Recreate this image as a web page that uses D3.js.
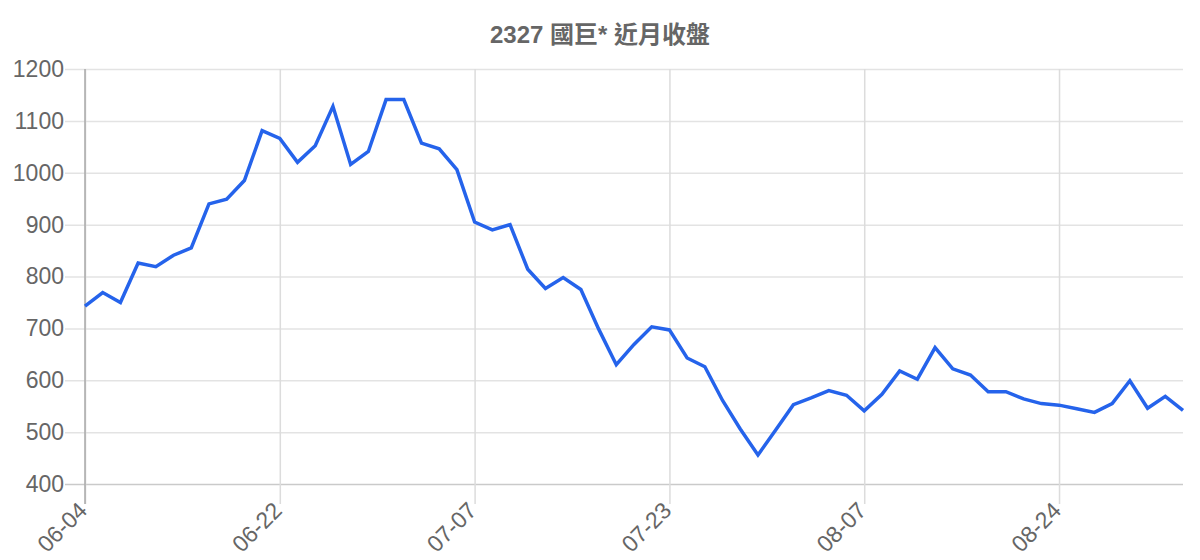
<!DOCTYPE html>
<html>
<head>
<meta charset="utf-8">
<script src="https://cdn.jsdelivr.net/npm/d3@7"></script>
<style>
    body { margin: 0; background: #fff; }
    svg text { font-family: "Liberation Sans", Arial, "Noto Sans CJK TC", sans-serif; fill: #666; }
</style>
</head>
<body>
<div id="chart"></div>
<script>
"use strict"

// chart data
var title = "2327 國巨* 近月收盤"

var dates = [
    "06-04", "06-05", "06-08", "06-09", "06-10", "06-11", "06-12", "06-15", "06-16", "06-17", "06-19",
    "06-22", "06-23", "06-24", "06-25", "06-26", "06-29", "06-30", "07-01", "07-02", "07-03", "07-06",
    "07-07", "07-08", "07-09", "07-13", "07-14", "07-15", "07-16", "07-17", "07-20", "07-21", "07-22",
    "07-23", "07-24", "07-27", "07-28", "07-29", "07-30", "07-31", "08-03", "08-04", "08-05", "08-06",
    "08-07", "08-10", "08-11", "08-12", "08-13", "08-14", "08-17", "08-18", "08-19", "08-20", "08-21",
    "08-24", "08-25", "08-26", "08-27", "08-28", "08-31", "09-01", "09-02"
]

var closes = [
    743, 769, 750, 826, 819, 841, 855, 940, 949, 985, 1081,
    1066, 1020, 1052, 1128, 1016, 1041, 1141, 1141, 1057, 1046, 1006,
    905, 890, 900, 814, 777, 798, 775, 699, 630, 669, 703,
    697, 643, 626, 561, 506, 456, 504, 553, 566, 580, 571,
    541, 573, 618, 602, 663, 622, 610, 578, 578, 564, 555,
    552, 545, 538, 555, 599, 546, 569, 542
]

var y_ticks = [400, 500, 600, 700, 800, 900, 1000, 1100, 1200]

var settings = {
    width: 1200,
    height: 560,
    left: 85,
    right: 1183,
    top: 69,
    bottom: 484,
    tick_len: 20
}

var svg = d3.select("#chart").append("svg")
    .attr("width", settings.width)
    .attr("height", settings.height)

var x = d3.scalePoint()
    .domain(dates)
    .range([settings.left, settings.right])

var y = d3.scaleLinear()
    .domain([400, 1200])
    .range([settings.bottom, settings.top])

// only every 11th date gets a label
var x_ticks = dates.filter(function (d, i) { return i % 11 === 0 })

// horizontal grid + y labels
var yaxis = d3.axisLeft(y)
    .tickValues(y_ticks)
    .tickFormat(d3.format("d"))
    .tickSize(-(settings.right - settings.left) - settings.tick_len)
    .tickPadding(1)

var gy = svg.append("g")
    .attr("transform", "translate(" + (settings.left - settings.tick_len) + ",0)")
    .call(yaxis)
gy.select(".domain").remove()
gy.selectAll(".tick line")
    .attr("stroke", function (d) { return d === 400 ? "#cacaca" : "#e3e3e3" })
    .attr("stroke-width", 1.5)
gy.selectAll(".tick text")
    .attr("font-size", 23)
    .attr("fill", "#666")

// vertical grid + x labels
var xaxis = d3.axisBottom(x)
    .tickValues(x_ticks)
    .tickSize(-(settings.bottom - settings.top) - settings.tick_len)

var gx = svg.append("g")
    .attr("transform", "translate(0," + (settings.bottom + settings.tick_len) + ")")
    .call(xaxis)
gx.select(".domain").remove()
gx.selectAll(".tick line")
    .attr("stroke", "#dcdcdc")
    .attr("stroke-width", 1.5)
gx.selectAll(".tick text")
    .attr("font-size", 23)
    .attr("fill", "#666")
    .attr("text-anchor", "end")
    .attr("dy", 0)
    .attr("y", 0)
    .attr("transform", "translate(3,8) rotate(-45)")

// y axis line
svg.append("line")
    .attr("x1", settings.left)
    .attr("x2", settings.left)
    .attr("y1", settings.top)
    .attr("y2", settings.bottom + settings.tick_len)
    .attr("stroke", "#aaa")
    .attr("stroke-width", 1.5)

// closing price line
var linefunc = d3.line()
    .x(function (d, i) { return x(dates[i]) })
    .y(function (d) { return y(d) })

svg.append("path")
    .datum(closes)
    .attr("d", linefunc)
    .attr("fill", "none")
    .attr("stroke", "#2563eb")
    .attr("stroke-width", 3.5)
    .attr("stroke-linejoin", "miter")

svg.append("text")
    .attr("x", 600)
    .attr("y", 43)
    .attr("text-anchor", "middle")
    .attr("font-size", 24)
    .attr("font-weight", "bold")
    .attr("fill", "#666")
    .text(title)
</script>
</body>
</html>
